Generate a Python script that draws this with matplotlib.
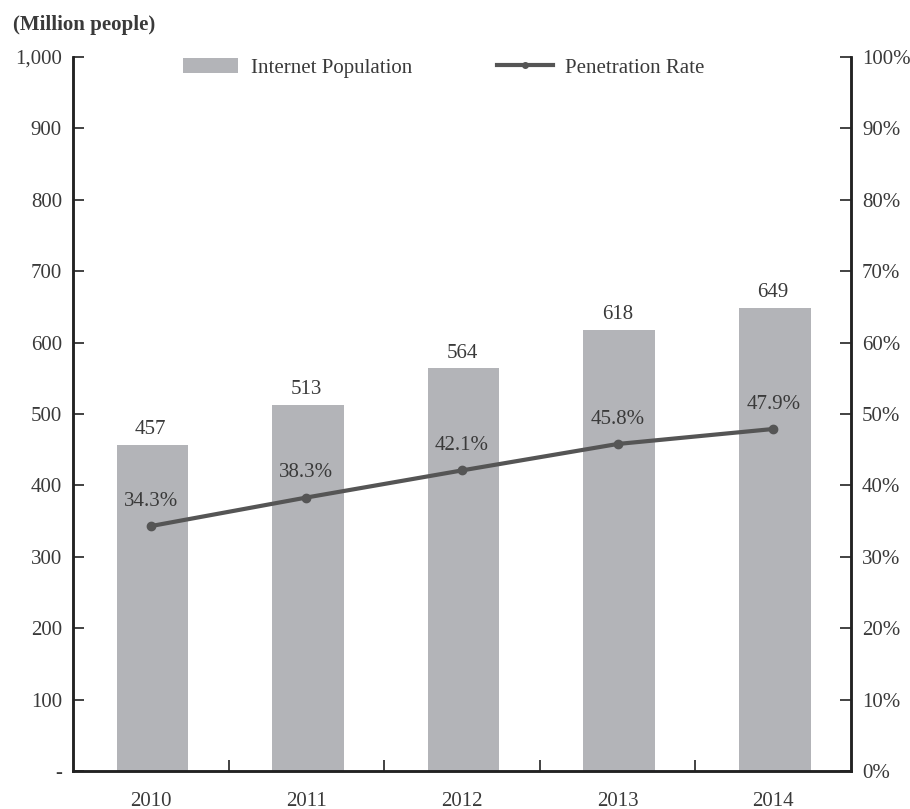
import matplotlib.pyplot as plt
from matplotlib.lines import Line2D
from matplotlib.patches import Patch

plt.rcParams["font.family"] = ["Liberation Serif", "DejaVu Serif"]

years = ["2010", "2011", "2012", "2013", "2014"]
population = [457, 513, 564, 618, 649]          # million people
penetration = [34.3, 38.3, 42.1, 45.8, 47.9]    # percent

left_ticks = [0, 100, 200, 300, 400, 500, 600, 700, 800, 900, 1000]
left_labels = ["-", "100", "200", "300", "400", "500", "600", "700", "800", "900", "1,000"]
right_ticks = [0, 10, 20, 30, 40, 50, 60, 70, 80, 90, 100]

BAR = "#b3b4b8"
LINE = "#555555"
TXT = "#3a3a3a"
FS = 15

fig = plt.figure(figsize=(9.1, 8.09), dpi=100)
ax = fig.add_axes([73 / 910, 1 - 771 / 809, 778 / 910, 714 / 809])
ax2 = ax.twinx()

x = range(len(years))
ax.bar([i + 0.01 for i in x], population, width=0.46, color=BAR, zorder=2)
for xi, v in zip(x, population):
    ax.annotate(f"{v}", (xi, v), xytext=(0, 4), textcoords="offset points",
                ha="center", va="bottom", fontsize=FS, color=TXT)

ax2.plot(x, penetration, color=LINE, lw=3, marker="o", ms=6, zorder=3)
for xi, v in zip(x, penetration):
    ax2.annotate(f"{v}%", (xi, v), xytext=(0, 11), textcoords="offset points",
                 ha="center", va="bottom", fontsize=FS, color=TXT)

ax.set_xlim(-0.5, len(years) - 0.5)
ax.set_ylim(0, 1000)
ax2.set_ylim(0, 100)

ax.set_yticks(left_ticks)
ax.set_yticklabels(left_labels)
ax2.set_yticks(right_ticks)
ax2.set_yticklabels([f"{t}%" for t in right_ticks])

# year labels under the bars, small ticks between categories
ax.set_xticks(list(x))
ax.set_xticklabels(years)
ax.set_xticks([i + 0.5 for i in range(len(years) - 1)], minor=True)
ax.tick_params(axis="x", which="major", length=0, pad=15, labelsize=FS, labelcolor=TXT)
ax.tick_params(axis="x", which="minor", direction="in", length=8, width=1.2, color="#222222")
ax.tick_params(axis="y", direction="in", length=8, width=1.2, pad=8,
               labelsize=FS, labelcolor=TXT, color="#222222")
ax2.tick_params(axis="y", direction="in", length=8, width=1.2, pad=8,
                labelsize=FS, labelcolor=TXT, color="#222222")

for a in (ax, ax2):
    a.spines["top"].set_visible(False)
    for s in ("left", "right", "bottom"):
        a.spines[s].set_linewidth(1.8)
        a.spines[s].set_color("#222222")

fig.text(13 / 910, 1 - 25 / 809, "(Million people)", fontsize=15, fontweight="bold",
         color=TXT, ha="left", va="center")

handles = [Patch(facecolor=BAR, edgecolor="none"),
           Line2D([], [], color=LINE, lw=3, marker="o", ms=4)]
ax.legend(handles, ["Internet Population", "Penetration Rate"], ncol=2,
          frameon=False, loc="center left",
          bbox_to_anchor=((183 - 73) / 778, (771 - 68) / 714),
          borderaxespad=0, borderpad=0,
          fontsize=FS, labelcolor=TXT, handlelength=2.65, handleheight=0.75,
          handletextpad=0.6, columnspacing=4.1)

fig.savefig("out.png", dpi=100)
